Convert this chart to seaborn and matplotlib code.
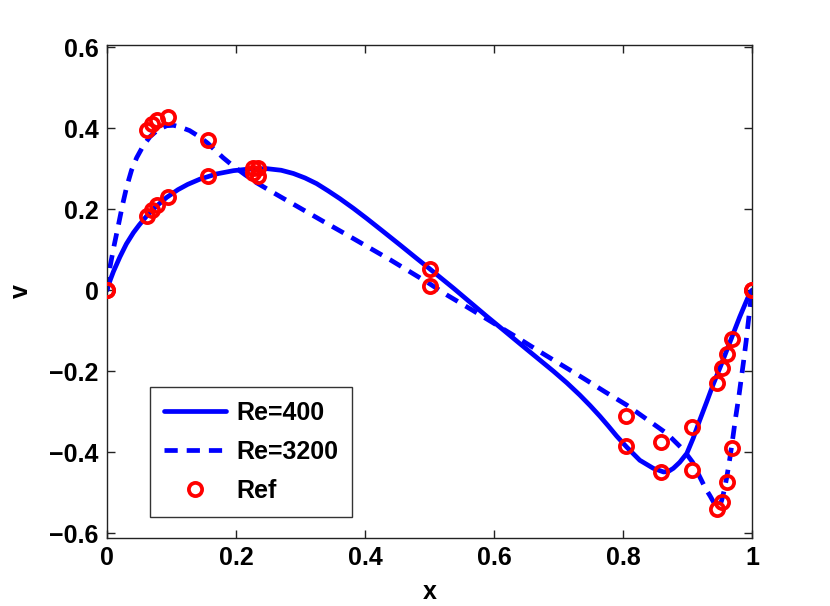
import numpy as np
import pandas as pd
import matplotlib
matplotlib.use("Agg")
import matplotlib.pyplot as plt
import seaborn as sns

# Re=400 curve
x400 = [0.0, 0.005, 0.010, 0.020, 0.030, 0.041, 0.050, 0.0615, 0.075, 0.0925, 0.110, 0.125, 0.144,
        0.170, 0.196, 0.22, 0.2476, 0.270, 0.289, 0.307, 0.325, 0.343, 0.361, 0.382, 0.4026,
        0.428, 0.454, 0.478, 0.50, 0.537, 0.563, 0.589, 0.615, 0.640, 0.666, 0.692, 0.713,
        0.733, 0.749, 0.764, 0.777, 0.790, 0.806, 0.826, 0.847, 0.863, 0.871, 0.878, 0.888,
        0.899, 0.909, 0.919, 0.930, 0.940, 0.951, 0.961, 0.971, 0.981, 0.990, 0.997, 1.0]
v400 = [0.0, 0.025, 0.046, 0.082, 0.114, 0.142, 0.161, 0.183, 0.205, 0.229, 0.248, 0.261, 0.274,
        0.287, 0.295, 0.299, 0.300, 0.296, 0.288, 0.277, 0.263, 0.245, 0.226, 0.202, 0.177,
        0.145, 0.112, 0.081, 0.053, 0.005, -0.030, -0.065, -0.099, -0.132, -0.166, -0.200, -0.229,
        -0.259, -0.285, -0.311, -0.335, -0.360, -0.388, -0.420, -0.440, -0.449, -0.447, -0.440, -0.425,
        -0.403, -0.365, -0.321, -0.275, -0.232, -0.189, -0.148, -0.107, -0.066, -0.032, -0.006, 0.0]

# Re=3200 curve
x3200 = [0.0, 0.0047, 0.011, 0.0176, 0.024, 0.0305, 0.038, 0.046, 0.056, 0.0667, 0.079, 0.0925,
         0.103, 0.113, 0.128, 0.144, 0.156, 0.168, 0.180, 0.196, 0.214, 0.232, 0.263, 0.299,
         0.335, 0.366, 0.403, 0.439, 0.50, 0.527, 0.566, 0.604, 0.638, 0.671, 0.705, 0.739,
         0.772, 0.806, 0.837, 0.868, 0.894, 0.908, 0.919, 0.928, 0.935, 0.941, 0.945, 0.950,
         0.953, 0.957, 0.961, 0.966, 0.970, 0.974, 0.980, 0.987, 0.991, 0.995, 1.0]
v3200 = [0.0, 0.058, 0.110, 0.160, 0.210, 0.255, 0.296, 0.327, 0.356, 0.379, 0.396, 0.406,
         0.407, 0.403, 0.394, 0.378, 0.363, 0.345, 0.327, 0.306, 0.285, 0.265, 0.236, 0.203,
         0.170, 0.142, 0.108, 0.075, 0.016, -0.012, -0.049, -0.086, -0.119, -0.152, -0.185, -0.218,
         -0.251, -0.284, -0.319, -0.354, -0.395, -0.425, -0.461, -0.490, -0.508, -0.525, -0.535, -0.533,
         -0.519, -0.494, -0.461, -0.412, -0.368, -0.321, -0.258, -0.175, -0.125, -0.068, 0.0]

# Reference data (Ghia et al.)
x_ref = [1.0000, 0.9688, 0.9609, 0.9531, 0.9453, 0.9063, 0.8594, 0.8047, 0.5000,
         0.2344, 0.2266, 0.1563, 0.0938, 0.0781, 0.0703, 0.0625, 0.0000]
v_ref400 = [0.00000, -0.12146, -0.15663, -0.19254, -0.22847, -0.33827, -0.44993, -0.38598, 0.05186,
            0.30174, 0.30203, 0.28124, 0.22965, 0.20920, 0.19713, 0.18360, 0.00000]
v_ref3200 = [0.00000, -0.39017, -0.47425, -0.52357, -0.54053, -0.44307, -0.37401, -0.31184, 0.00999,
             0.28188, 0.29030, 0.37119, 0.42768, 0.41906, 0.40917, 0.39560, 0.00000]

x_ticks = [0, 0.2, 0.4, 0.6, 0.8, 1.0]
x_ticklabels = ["0", "0.2", "0.4", "0.6", "0.8", "1"]
y_ticks = [-0.6, -0.4, -0.2, 0, 0.2, 0.4, 0.6]
y_ticklabels = ["\u22120.6", "\u22120.4", "\u22120.2", "0", "0.2", "0.4", "0.6"]

sns.set_style("ticks")
plt.rcParams['font.family'] = ['Liberation Sans', 'DejaVu Sans']
plt.rcParams['font.weight'] = 'bold'
plt.rcParams['text.color'] = 'black'
plt.rcParams['axes.labelcolor'] = 'black'

fig = plt.figure(figsize=(8.30, 6.06), dpi=100)
ax = fig.add_axes([107/830, 1 - 538/606, 645/830, (538 - 44.7)/606])

df400 = pd.DataFrame({"x": x400, "v": v400})
df3200 = pd.DataFrame({"x": x3200, "v": v3200})
dfref = pd.DataFrame({"x": x_ref + x_ref, "v": v_ref400 + v_ref3200})

blue = "#0000ff"
sns.lineplot(data=df400, x="x", y="v", ax=ax, color=blue, lw=3.4, sort=False,
             estimator=None, label="Re=400")
sns.lineplot(data=df3200, x="x", y="v", ax=ax, color=blue, lw=3.4, sort=False,
             estimator=None, label="Re=3200")
ax.lines[-1].set_dashes([2.8, 1.9])
for ln in ax.lines:
    ln.set_solid_joinstyle("round")
    ln.set_dash_joinstyle("round")
ax.plot(dfref["x"], dfref["v"], ls="none", marker="o", ms=9.5, mfc="none",
        mec="#ff0000", mew=2.7, label="Ref", zorder=5)

ax.set_xlim(0, 1)
ax.set_ylim(-0.612, 0.606)
ax.set_xticks(x_ticks)
ax.set_xticklabels(x_ticklabels)
ax.set_yticks(y_ticks)
ax.set_yticklabels(y_ticklabels)
ax.tick_params(direction="in", length=6, width=1, top=True, right=True,
               labelsize=18, colors="#222222", labelcolor="black", pad=6)
for lab in ax.get_xticklabels() + ax.get_yticklabels():
    lab.set_fontweight("bold")
for sp in ax.spines.values():
    sp.set_visible(True)
    sp.set_linewidth(1)
    sp.set_color("#222222")

ax.set_xlabel("x", fontsize=18, fontweight="bold", labelpad=7)
ax.set_ylabel("v", fontsize=18, fontweight="bold", labelpad=12)

leg = ax.legend(loc="lower left", bbox_to_anchor=(0.0667, 0.0426), frameon=True,
                fancybox=False, edgecolor="black", fontsize=18, handlelength=2.5,
                borderpad=0.55, labelspacing=0.6, handletextpad=0.4, borderaxespad=0)
leg.get_frame().set_linewidth(1)
for t in leg.get_texts():
    t.set_fontweight("bold")

fig.savefig("out.png", dpi=100, facecolor="white")
